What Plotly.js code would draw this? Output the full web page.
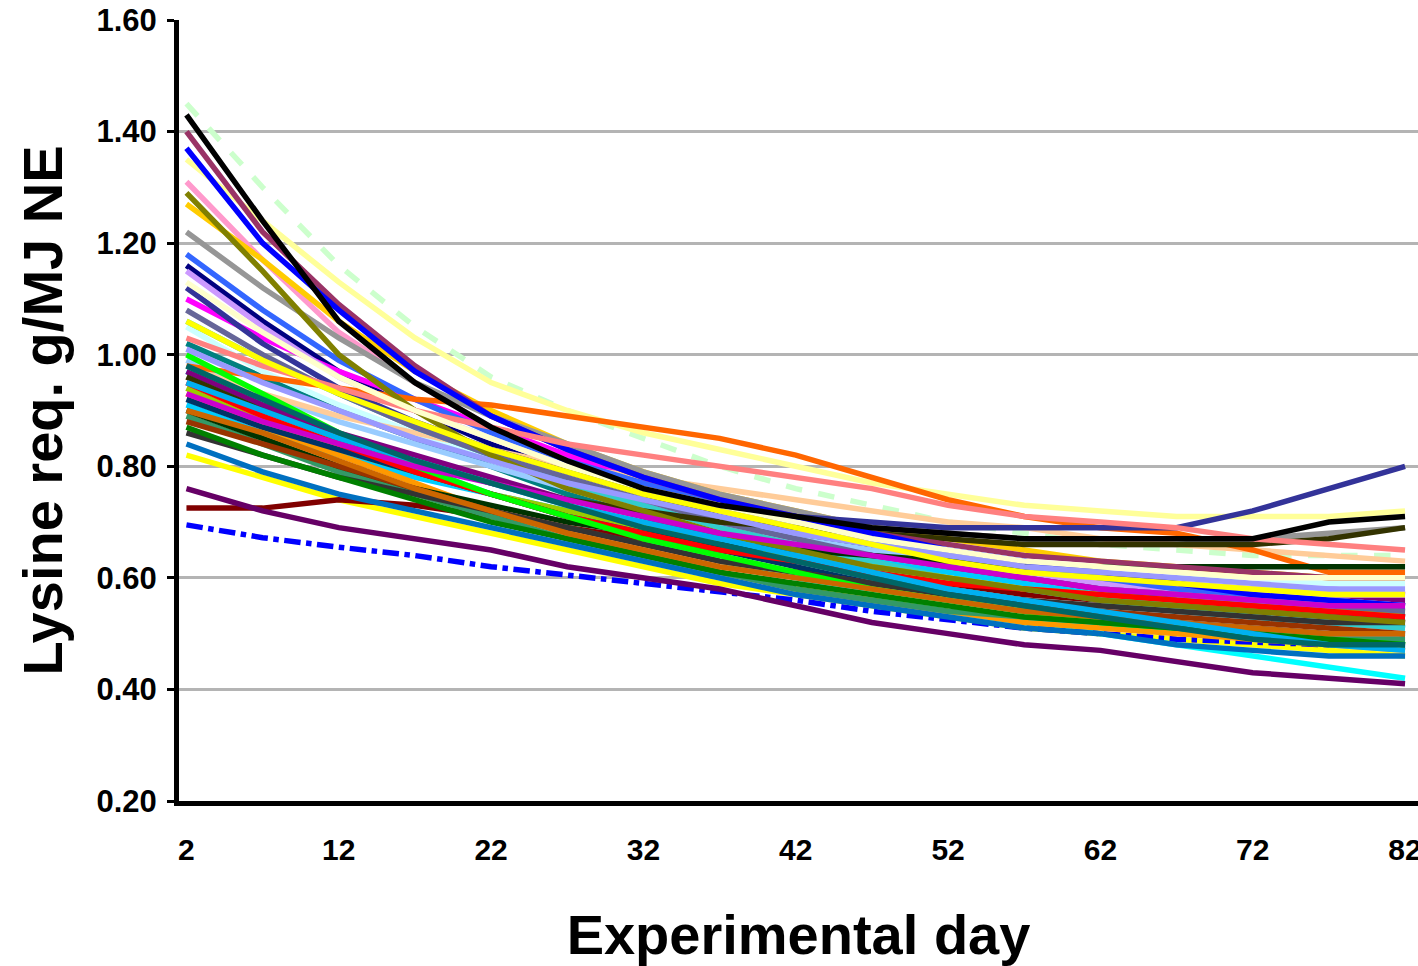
<!DOCTYPE html>
<html>
<head>
<meta charset="utf-8">
<script src="https://cdn.plot.ly/plotly-3.0.1.min.js"></script>
<style>html,body{margin:0;padding:0;background:#fff;}#chart{width:1418px;height:966px;}</style>
</head>
<body>
<div id="chart"></div>
<script>
// Experimental days (sampled every 5 days)
const days = [2,7,12,17,22,27,32,37,42,47,52,57,62,67,72,77,82];
const xTickVals = [2,12,22,32,42,52,62,72,82];
const xTickText = ['2','12','22','32','42','52','62','72','82'];

// Lysine requirement (g/MJ NE) per pig
const pig01 = [1.16,1.06,0.97,0.90,0.84,0.79,0.75,0.71,0.68,0.65,0.62,0.60,0.58,0.56,0.55,0.54,0.53];
const pig02 = [1.10,1.03,0.97,0.92,0.87,0.82,0.77,0.73,0.70,0.67,0.64,0.62,0.60,0.59,0.58,0.58,0.57];
const pig03 = [0.82,0.78,0.74,0.71,0.68,0.65,0.62,0.59,0.57,0.55,0.53,0.51,0.50,0.49,0.48,0.47,0.46];
const pig04 = [0.97,0.91,0.85,0.80,0.75,0.71,0.67,0.63,0.60,0.57,0.54,0.52,0.50,0.48,0.46,0.44,0.42];
const pig05 = [0.97,0.91,0.86,0.82,0.78,0.74,0.71,0.68,0.66,0.64,0.62,0.60,0.59,0.58,0.57,0.56,0.56];
const pig06 = [0.725,0.725,0.74,0.73,0.71,0.69,0.67,0.65,0.63,0.61,0.59,0.57,0.56,0.55,0.54,0.53,0.52];
const pig07 = [1.02,0.96,0.90,0.85,0.80,0.75,0.71,0.67,0.63,0.60,0.58,0.56,0.54,0.52,0.50,0.49,0.48];
const pig08 = [0.695,0.672,0.655,0.64,0.62,0.605,0.59,0.575,0.56,0.54,0.525,0.51,0.50,0.49,0.485,0.48,0.475];
const pig09 = [0.91,0.86,0.82,0.78,0.75,0.72,0.69,0.67,0.65,0.63,0.61,0.59,0.57,0.55,0.53,0.52,0.51];
const pig10 = [1.05,0.97,0.91,0.86,0.81,0.77,0.73,0.70,0.68,0.66,0.64,0.62,0.61,0.60,0.60,0.59,0.59];
const pig11 = [1.45,1.30,1.16,1.05,0.96,0.90,0.85,0.80,0.76,0.73,0.70,0.68,0.66,0.65,0.64,0.64,0.64];
const pig12 = [1.35,1.24,1.13,1.03,0.95,0.90,0.86,0.83,0.80,0.77,0.75,0.73,0.72,0.71,0.71,0.71,0.72];
const pig13 = [0.99,0.93,0.88,0.84,0.80,0.76,0.73,0.70,0.67,0.65,0.63,0.61,0.60,0.59,0.58,0.58,0.57];
const pig14 = [1.31,1.17,1.04,0.95,0.87,0.81,0.76,0.72,0.69,0.66,0.64,0.62,0.60,0.58,0.57,0.56,0.55];
const pig15 = [1.15,1.05,0.96,0.90,0.85,0.80,0.76,0.72,0.69,0.66,0.63,0.61,0.59,0.58,0.57,0.56,0.55];
const pig16 = [0.98,0.93,0.89,0.86,0.83,0.80,0.78,0.76,0.74,0.72,0.70,0.69,0.67,0.66,0.65,0.64,0.63];
const pig17 = [1.18,1.08,0.99,0.92,0.86,0.81,0.77,0.73,0.70,0.67,0.64,0.62,0.60,0.58,0.57,0.56,0.55];
const pig18 = [1.06,0.99,0.93,0.87,0.82,0.77,0.73,0.69,0.66,0.63,0.60,0.58,0.56,0.54,0.53,0.52,0.51];
const pig19 = [0.94,0.88,0.83,0.79,0.75,0.72,0.69,0.66,0.64,0.62,0.60,0.58,0.57,0.56,0.55,0.54,0.54];
const pig20 = [1.27,1.17,1.06,0.97,0.90,0.84,0.79,0.75,0.72,0.69,0.67,0.65,0.63,0.62,0.61,0.60,0.60];
const pig21 = [0.93,0.87,0.82,0.77,0.72,0.68,0.64,0.61,0.58,0.56,0.54,0.52,0.51,0.50,0.49,0.48,0.47];
const pig22 = [0.98,0.96,0.94,0.92,0.91,0.89,0.87,0.85,0.82,0.78,0.74,0.71,0.69,0.68,0.65,0.61,0.61];
const pig23 = [1.08,1.00,0.93,0.87,0.82,0.78,0.74,0.70,0.67,0.64,0.62,0.60,0.58,0.57,0.56,0.55,0.54];
const pig24 = [1.22,1.12,1.03,0.95,0.89,0.84,0.79,0.75,0.72,0.69,0.68,0.67,0.66,0.66,0.67,0.68,0.69];
const pig25 = [0.92,0.87,0.83,0.79,0.75,0.71,0.68,0.65,0.62,0.59,0.57,0.55,0.53,0.52,0.51,0.50,0.50];
const pig26 = [0.89,0.84,0.79,0.75,0.71,0.67,0.64,0.61,0.58,0.56,0.54,0.53,0.52,0.51,0.50,0.49,0.49];
const pig27 = [0.90,0.85,0.80,0.76,0.73,0.70,0.68,0.66,0.65,0.64,0.63,0.62,0.62,0.62,0.62,0.62,0.62];
const pig28 = [0.96,0.90,0.85,0.81,0.77,0.74,0.72,0.70,0.69,0.68,0.67,0.66,0.66,0.66,0.66,0.67,0.69];
const pig29 = [0.88,0.84,0.80,0.76,0.72,0.69,0.66,0.63,0.61,0.59,0.57,0.55,0.54,0.53,0.52,0.51,0.50];
const pig30 = [1.40,1.22,1.09,0.98,0.89,0.83,0.78,0.74,0.71,0.68,0.66,0.64,0.63,0.62,0.61,0.60,0.60];
const pig31 = [1.12,1.02,0.94,0.88,0.83,0.79,0.76,0.73,0.71,0.70,0.69,0.69,0.69,0.69,0.72,0.76,0.80];
const pig32 = [0.86,0.82,0.78,0.75,0.72,0.69,0.66,0.63,0.61,0.59,0.57,0.56,0.55,0.54,0.53,0.52,0.52];
const pig33 = [0.95,0.89,0.84,0.79,0.75,0.71,0.68,0.65,0.63,0.61,0.59,0.58,0.57,0.56,0.55,0.54,0.53];
const pig34 = [1.00,0.93,0.86,0.80,0.75,0.71,0.67,0.64,0.61,0.58,0.56,0.54,0.52,0.51,0.50,0.49,0.48];
const pig35 = [1.37,1.20,1.08,0.97,0.89,0.83,0.78,0.74,0.71,0.68,0.65,0.63,0.61,0.59,0.57,0.56,0.55];
const pig36 = [0.87,0.82,0.78,0.74,0.70,0.67,0.64,0.61,0.59,0.57,0.55,0.53,0.52,0.51,0.50,0.49,0.48];
const pig37 = [1.29,1.15,1.00,0.90,0.82,0.76,0.72,0.68,0.65,0.62,0.60,0.58,0.56,0.55,0.54,0.53,0.52];
const pig38 = [1.03,0.98,0.94,0.90,0.87,0.84,0.82,0.80,0.78,0.76,0.73,0.71,0.70,0.69,0.67,0.66,0.65];
const pig39 = [0.84,0.79,0.75,0.72,0.69,0.66,0.63,0.60,0.57,0.55,0.53,0.51,0.50,0.48,0.47,0.46,0.46];
const pig40 = [0.76,0.72,0.69,0.67,0.65,0.62,0.60,0.58,0.55,0.52,0.50,0.48,0.47,0.45,0.43,0.42,0.41];
const pig41 = [1.01,0.95,0.90,0.85,0.81,0.77,0.74,0.71,0.68,0.66,0.64,0.62,0.61,0.60,0.59,0.58,0.58];
const pig42 = [0.90,0.86,0.81,0.76,0.72,0.68,0.65,0.62,0.60,0.58,0.56,0.54,0.53,0.52,0.51,0.50,0.50];
const pig43 = [1.13,1.04,0.96,0.90,0.85,0.80,0.76,0.73,0.70,0.67,0.65,0.63,0.62,0.61,0.60,0.60,0.60];
const pig44 = [0.95,0.90,0.85,0.81,0.77,0.73,0.70,0.67,0.64,0.61,0.58,0.56,0.54,0.52,0.50,0.48,0.47];
const pig45 = [0.93,0.88,0.84,0.80,0.77,0.74,0.71,0.68,0.66,0.64,0.62,0.60,0.58,0.57,0.56,0.55,0.55];
const pig46 = [0.98,0.92,0.86,0.81,0.77,0.73,0.69,0.66,0.63,0.60,0.57,0.55,0.53,0.51,0.49,0.48,0.48];
const pig47 = [1.06,0.99,0.93,0.88,0.83,0.79,0.75,0.72,0.69,0.66,0.63,0.61,0.60,0.59,0.58,0.57,0.57];
const pig48 = [1.43,1.24,1.06,0.95,0.87,0.81,0.76,0.73,0.71,0.69,0.68,0.67,0.67,0.67,0.67,0.70,0.71];

const pigSeries = [pig01,pig02,pig03,pig04,pig05,pig06,pig07,pig08,pig09,pig10,pig11,pig12,
  pig13,pig14,pig15,pig16,pig17,pig18,pig19,pig20,pig21,pig22,pig23,pig24,pig25,pig26,pig27,
  pig28,pig29,pig30,pig31,pig32,pig33,pig34,pig35,pig36,pig37,pig38,pig39,pig40,pig41,pig42,
  pig43,pig44,pig45,pig46,pig47,pig48];
const pigColors = ['#000080','#FF00FF','#FFFF00','#00FFFF','#800080','#800000','#008080','#0000FF',
  '#00CCFF','#CCFFFF','#CCFFCC','#FFFF99','#99CCFF','#FF99CC','#CC99FF','#FFCC99','#3366FF',
  '#33CCCC','#99CC00','#FFCC00','#FF9900','#FF6600','#666699','#969696','#003366','#339966',
  '#003300','#333300','#993300','#993366','#333399','#333333','#FF0000','#00FF00','#0000FF',
  '#008000','#808000','#FF8080','#0070C0','#660066','#9999FF','#CC6600','#FFFFCC','#00B0F0',
  '#CC00CC','#006666','#FFFF00','#000000'];
const pigDash = {pig08:'dashdot', pig11:'dash'};

const names = pigSeries.map((_, i) => 'pig' + String(i + 1).padStart(2, '0'));
const traces = pigSeries.map((vals, i) => ({
  type: 'scatter', mode: 'lines', name: names[i],
  x: days, y: vals,
  line: {color: pigColors[i], width: 5.5, dash: pigDash[names[i]] || 'solid'},
  hoverinfo: 'x+y+name'
}));

const fontFam = 'Arial, "Liberation Sans", sans-serif';
const layout = {
  width: 1418, height: 966,
  margin: {l: 179, r: 0, t: 20, b: 165},
  paper_bgcolor: '#ffffff', plot_bgcolor: '#ffffff',
  showlegend: false,
  font: {family: fontFam, color: '#000000'},
  xaxis: {
    range: [1.51, 82.85], tickvals: xTickVals, ticktext: xTickText,
    showgrid: false, zeroline: false, showline: true, linecolor: '#000000', linewidth: 5,
    ticks: '', ticklabelstandoff: 18, ticklabeloverflow: 'allow',
    tickfont: {family: fontFam, size: 30, weight: 'bold', color: '#000000'},
    title: {text: 'Experimental day', font: {family: fontFam, size: 56, weight: 'bold', color: '#000000'}, standoff: 55},
    automargin: false
  },
  yaxis: {
    range: [0.2, 1.6], tickvals: [0.2,0.4,0.6,0.8,1.0,1.2,1.4,1.6], tickformat: '.2f',
    showgrid: true, gridcolor: '#b4b4b4', gridwidth: 3, zeroline: false,
    showline: true, linecolor: '#000000', linewidth: 5,
    ticks: 'outside', ticklen: 7, tickwidth: 3, tickcolor: '#000000', ticklabelstandoff: 4,
    tickfont: {family: fontFam, size: 31, weight: 'bold', color: '#000000'},
    title: {text: 'Lysine req. g/MJ NE', font: {family: fontFam, size: 56, weight: 'bold', color: '#000000'}, standoff: 17},
    automargin: false
  }
};
Plotly.newPlot('chart', traces, layout, {displayModeBar: false});
</script>
</body>
</html>
